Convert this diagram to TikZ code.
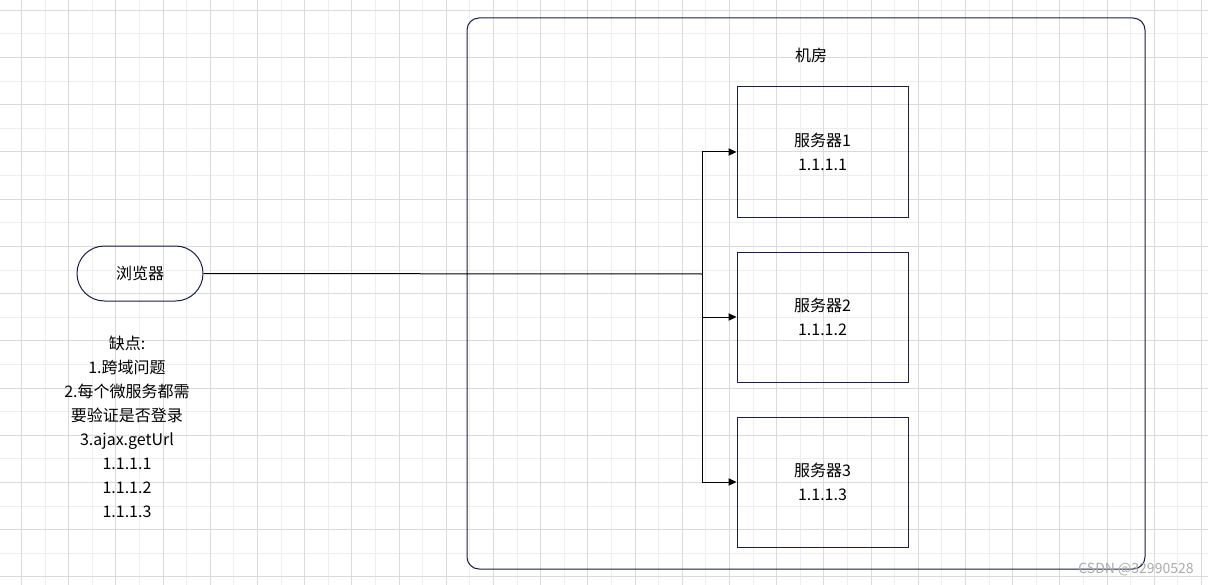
\documentclass[tikz,border=0pt]{standalone}
\usepackage{fontspec}
\setmainfont{Noto Sans CJK SC}
\usetikzlibrary{arrows.meta}
\definecolor{navy}{RGB}{26,30,72}
\definecolor{gridminor}{RGB}{238,238,238}
\definecolor{gridmajor}{RGB}{218,218,218}

\begin{document}
\begin{tikzpicture}[x=0.75pt,y=-0.75pt,
  font=\fontsize{12pt}{18pt}\selectfont,
  line width=0.75pt,
  server/.style={draw=navy, minimum width=128.25pt, minimum height=97.5pt, align=center},
  link/.style={-{Triangle[length=6pt,width=5.5pt]}}]
\useasboundingbox (0,0) rectangle (1208,585);
%grid
\fill[white] (0,0) rectangle (1208,585);
\begin{scope}[line width=0.6pt]
\foreach \i in {0,...,51} \draw[gridminor] ({-2.3+23.6*\i},0) -- ++(0,585);
\foreach \i in {0,...,25} \draw[gridminor] (0,{-13.3+23.6*\i}) -- ++(1208,0);
\foreach \i in {0,...,25} \draw[gridmajor] ({21.3+47.2*\i},0) -- ++(0,585);
\foreach \i in {0,...,12} \draw[gridmajor] (0,{10.3+47.2*\i}) -- ++(1208,0);
\end{scope}

    \draw[navy, rounded corners=9pt] (467,18) rectangle (1145,569);
    \node (room) at (811,55) {机房};
\node[draw=navy, minimum width=94.5pt, minimum height=41.25pt, rounded corners=20.6pt] (browser) at (140,273.5) {浏览器};
\node (s1) [server] at (822.5,152) {服务器1\\1.1.1.1};
\node (s2) [server] at (822.5,317) {服务器2\\1.1.1.2};
\node (s3) [server] at (822.5,482) {服务器3\\1.1.1.3};
\coordinate (T) at (702,274);
\draw (browser) to (T);
\draw [link] (T) |- (s1); \draw [link] (T) -- (T|-s2) -- (s2);
\draw [link] (T) |- (s3);
\node[align=center] (note) at (127,426.5) {缺点:\\1.跨域问题\\2.每个微服务都需\\要验证是否登录\\3.ajax.getUrl\\1.1.1.1\\1.1.1.2\\1.1.1.3};
\node[text=gray!65, font=\fontsize{10.5pt}{11pt}\selectfont] (mark) at (1136,569) {CSDN @32990528};

  \end{tikzpicture}
\end{document}
